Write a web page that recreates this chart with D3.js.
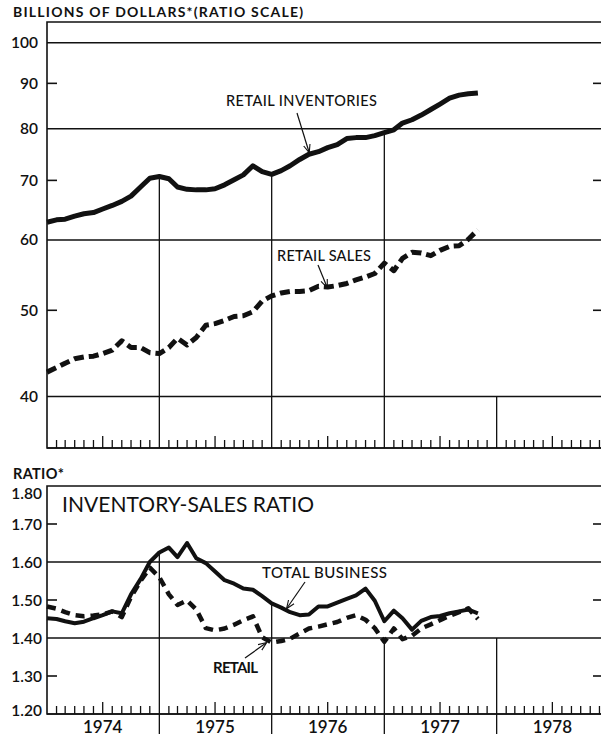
<!DOCTYPE html>
<html>
<head>
<meta charset="utf-8">
<script src="https://cdn.jsdelivr.net/npm/d3@7"></script>
<style>
  body { margin: 0; background: #fff; }
  svg { display: block; }
  text { font-family: Lato, "DejaVu Sans", sans-serif; fill: #111; }
</style>
</head>
<body>
<div id="chart"></div>
<script>
// monthly values, Jan 1974 - Nov 1977
var retailInventories = [62.8, 63.2, 63.3, 63.8, 64.2, 64.4, 65.0, 65.6, 66.3, 67.2, 68.8, 70.4,
  70.7, 70.3, 68.8, 68.4, 68.3, 68.3, 68.5, 69.2, 70.1, 71.0, 72.7, 71.6,
  71.1, 71.8, 72.7, 73.9, 74.9, 75.4, 76.2, 76.8, 78.0, 78.2, 78.2, 78.6,
  79.2, 79.8, 81.2, 81.9, 82.9, 84.1, 85.3, 86.6, 87.3, 87.6, 87.8]
var retailSales = [42.6, 43.1, 43.6, 44.1, 44.3, 44.4, 44.7, 45.1, 46.2, 45.4, 45.4, 44.8,
  44.7, 45.4, 46.5, 45.7, 46.6, 48.1, 48.3, 48.7, 49.2, 49.3, 49.8, 51.2,
  51.9, 52.3, 52.5, 52.5, 52.6, 53.2, 53.1, 53.3, 53.6, 54.1, 54.5, 55.0,
  56.5, 55.4, 57.2, 58.1, 58.0, 57.6, 58.4, 59.0, 59.1, 60.1, 61.6]
var totalBusinessRatio = [1.452, 1.450, 1.444, 1.439, 1.443, 1.452, 1.460, 1.470, 1.465, 1.515, 1.555, 1.600,
  1.625, 1.638, 1.613, 1.650, 1.610, 1.597, 1.575, 1.552, 1.543, 1.530, 1.527, 1.510,
  1.491, 1.480, 1.468, 1.460, 1.462, 1.483, 1.483, 1.493, 1.503, 1.512, 1.530, 1.498,
  1.444, 1.472, 1.452, 1.422, 1.445, 1.455, 1.458, 1.465, 1.470, 1.475, 1.465]
var retailRatio = [1.483, 1.477, 1.468, 1.460, 1.457, 1.459, 1.462, 1.470, 1.455, 1.508, 1.550, 1.585,
  1.560, 1.515, 1.487, 1.499, 1.475, 1.426, 1.420, 1.425, 1.435, 1.447, 1.457, 1.402,
  1.388, 1.392, 1.398, 1.412, 1.425, 1.430, 1.436, 1.442, 1.453, 1.460, 1.448, 1.426,
  1.390, 1.425, 1.397, 1.406, 1.425, 1.436, 1.447, 1.458, 1.468, 1.478, 1.450]

var years = ['1974', '1975', '1976', '1977', '1978']
var topGridValues = [100, 80, 60, 40]
var topTickValues = [90, 70, 50]
var topLabelValues = [100, 90, 80, 70, 60, 50, 40]
var bottomGridValues = [1.60, 1.40]
var bottomTickValues = [1.70, 1.50, 1.30]
var bottomLabelValues = [1.80, 1.70, 1.60, 1.50, 1.40, 1.30, 1.20]
// how far up each year divider reaches (1975, 1976, 1977, 1978)
var topDividerReach = [70.7, 71.1, 79.2, 40]
var bottomDividerReach = [1.625, 1.491, 1.40, 1.40]

const W = 601, H = 737
const LEFT = 47, RIGHT = 609

var svg = d3.select('#chart').append('svg')
  .attr('width', W)
  .attr('height', H)

var months = d3.timeMonth.range(new Date(1974, 0, 1), new Date(1977, 11, 1))
var x = d3.scaleTime()
  .domain([new Date(1974, 0, 1), new Date(1979, 0, 1)])
  .range([LEFT, RIGHT])

var yTop = d3.scaleLog().domain([35, 105.5]).range([448, 22])
var yBot = d3.scaleLinear().domain([1.20, 1.80]).range([714, 486])

var ink = '#111'

function frame(y0, y1) {
  svg.append('path')
    .attr('d', 'M' + RIGHT + ',' + y0 + 'H' + LEFT + 'V' + y1 + 'H' + RIGHT)
    .attr('fill', 'none')
    .attr('stroke', ink)
    .attr('stroke-width', 1.6)
}

function monthTicks(yAxis) {
  var ticks = d3.timeMonth.range(new Date(1974, 0, 1), new Date(1979, 0, 1))
    .filter(function (d) { return d.getMonth() != 0 })
  svg.append('g').selectAll('line')
    .data(ticks)
    .join('line')
    .attr('x1', function (d) { return x(d) })
    .attr('x2', function (d) { return x(d) })
    .attr('y1', yAxis)
    .attr('y2', function (d) { return yAxis - (d.getMonth() == 6 ? 12 : 8) })
    .attr('stroke', ink)
    .attr('stroke-width', 1.3)
}

function dividers(scale, reach, yAxis, below) {
  svg.append('g').selectAll('line')
    .data(reach)
    .join('line')
    .attr('x1', function (d, i) { return x(new Date(1975 + i, 0, 1)) })
    .attr('x2', function (d, i) { return x(new Date(1975 + i, 0, 1)) })
    .attr('y1', function (d) { return scale(d) })
    .attr('y2', yAxis + below)
    .attr('stroke', ink)
    .attr('stroke-width', 1.3)
}

function gridAndTicks(scale, grid, ticks) {
  svg.append('g').selectAll('line')
    .data(grid)
    .join('line')
    .attr('x1', LEFT).attr('x2', RIGHT)
    .attr('y1', function (d) { return scale(d) })
    .attr('y2', function (d) { return scale(d) })
    .attr('stroke', ink)
    .attr('stroke-width', 1.5)
  var g = svg.append('g')
  g.selectAll('.lt').data(ticks).join('line')
    .attr('x1', LEFT).attr('x2', LEFT + 10)
    .attr('y1', function (d) { return scale(d) })
    .attr('y2', function (d) { return scale(d) })
    .attr('stroke', ink).attr('stroke-width', 1.6)
  g.selectAll('.rt').data(ticks).join('line')
    .attr('x1', RIGHT - 16).attr('x2', RIGHT)
    .attr('y1', function (d) { return scale(d) })
    .attr('y2', function (d) { return scale(d) })
    .attr('stroke', ink).attr('stroke-width', 1.6)
}

function labels(scale, values, xRight, fmt, nudge) {
  svg.append('g').selectAll('text')
    .data(values)
    .join('text')
    .attr('x', xRight)
    .attr('y', function (d, i) { return scale(d) + (nudge ? nudge(i) : 0) })
    .attr('dy', '0.36em')
    .attr('text-anchor', 'end')
    .style('font-size', '15.5px')
    .style('font-weight', 600)
    .text(fmt)
}

function series(scale, values, width, dash) {
  var line = d3.line()
    .x(function (d, i) { return x(months[i]) })
    .y(function (d) { return scale(d) })
  svg.append('path')
    .datum(values)
    .attr('d', line)
    .attr('fill', 'none')
    .attr('stroke', ink)
    .attr('stroke-width', width)
    .attr('stroke-linejoin', 'round')
    .attr('stroke-dasharray', dash)
}

svg.append('defs').append('marker')
  .attr('id', 'arrow')
  .attr('viewBox', '0 0 10 10')
  .attr('refX', 9).attr('refY', 5)
  .attr('markerWidth', 7).attr('markerHeight', 7)
  .attr('orient', 'auto')
  .append('path')
  .attr('d', 'M0,1L10,5L0,9')
  .attr('fill', 'none')
  .attr('stroke', ink)
  .attr('stroke-width', 1.3)

function label(text, tx, ty, size, weight, width) {
  svg.append('text')
    .attr('x', tx).attr('y', ty)
    .attr('textLength', width)
    .attr('lengthAdjust', 'spacing')
    .style('font-size', size + 'px')
    .style('font-weight', weight)
    .text(text)
}

function note(text, tx, ty, size, weight, width, x1, y1, x2, y2) {
  label(text, tx, ty, size, weight, width)
  svg.append('line')
    .attr('x1', x1).attr('y1', y1)
    .attr('x2', x2).attr('y2', y2)
    .attr('stroke', ink)
    .attr('stroke-width', 1.2)
    .attr('marker-end', 'url(#arrow)')
}

/* TOP PANEL */
gridAndTicks(yTop, topGridValues, topTickValues)
dividers(yTop, topDividerReach, 448, 0)
frame(22, 448)
svg.append('line')
  .attr('x1', LEFT).attr('x2', RIGHT)
  .attr('y1', 448).attr('y2', 448)
  .attr('stroke', ink).attr('stroke-width', 1.6)
monthTicks(448)
labels(yTop, topLabelValues, 38, function (d) { return d })
series(yTop, retailInventories, 5, null)
series(yTop, retailSales, 5, '10,5')

label('BILLIONS OF DOLLARS*(RATIO SCALE)', 13, 17, 14, 700, 290)
note('RETAIL INVENTORIES', 226, 106, 14.5, 500, 151, 297, 113, 309, 152)
note('RETAIL SALES', 277, 261, 14.5, 500, 94, 318, 265, 327, 287)

/* BOTTOM PANEL */
gridAndTicks(yBot, bottomGridValues, bottomTickValues)
dividers(yBot, bottomDividerReach, 714, 20)
frame(486, 714)
svg.append('line')
  .attr('x1', LEFT).attr('x2', RIGHT)
  .attr('y1', 714).attr('y2', 714)
  .attr('stroke', ink).attr('stroke-width', 1.6)
monthTicks(714)
labels(yBot, bottomLabelValues, 42, d3.format('.2f'), function (i) {
  return i == 0 ? 7 : (i == bottomLabelValues.length - 1 ? -4 : 0)
})
series(yBot, totalBusinessRatio, 4, null)
series(yBot, retailRatio, 4.5, '9,6')

label('RATIO*', 13, 479, 14.5, 700, 51)
label('INVENTORY-SALES RATIO', 62, 512, 21, 400, 252)

note('TOTAL BUSINESS', 262, 578, 15, 500, 125, 305, 582, 287, 608)
note('RETAIL', 213, 673, 15, 700, 45, 245, 658, 266, 643)

svg.append('g').selectAll('text')
  .data(years)
  .join('text')
  .attr('x', function (d) { return x(new Date(+d, 6, 1)) })
  .attr('y', 733)
  .attr('text-anchor', 'middle')
  .style('font-size', '17px')
  .style('font-weight', 600)
  .text(function (d) { return d })
</script>
</body>
</html>
